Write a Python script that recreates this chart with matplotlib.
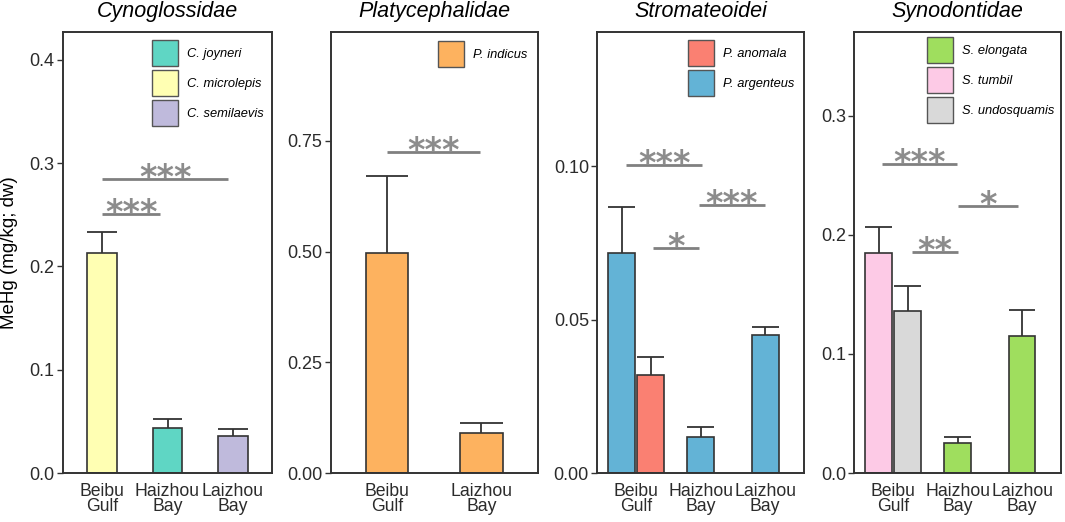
import matplotlib
matplotlib.use("Agg")
import matplotlib.pyplot as plt
from matplotlib.patches import Patch
import numpy as np

plt.rcParams['font.family'] = ['Liberation Sans', 'DejaVu Sans']

# ---------------- data ----------------
# Panel 1: Cynoglossidae
cyno_sites = ["Beibu\nGulf", "Haizhou\nBay", "Laizhou\nBay"]
cyno_species = ["C. joyneri", "C. microlepis", "C. semilaevis"]
cyno_bar_species = ["C. microlepis", "C. joyneri", "C. semilaevis"]
cyno_bar_site = ["Beibu\nGulf", "Haizhou\nBay", "Laizhou\nBay"]
cyno_mean = [0.213, 0.044, 0.036]
cyno_se = [0.0207, 0.0084, 0.0062]
cyno_sig = [(1.0, 1.89, 0.2505, "***"), (1.0, 2.93, 0.2847, "***")]

# Panel 2: Platycephalidae
platy_sites = ["Beibu\nGulf", "Laizhou\nBay"]
platy_species = ["P. indicus"]
platy_bar_species = ["P. indicus", "P. indicus"]
platy_bar_site = ["Beibu\nGulf", "Laizhou\nBay"]
platy_mean = [0.496, 0.0896]
platy_se = [0.175, 0.024]
platy_sig = [(1.0, 1.98, 0.7256, "***")]

# Panel 3: Stromateoidei
strom_sites = ["Beibu\nGulf", "Haizhou\nBay", "Laizhou\nBay"]
strom_species = ["P. anomala", "P. argenteus"]
strom_bar_species = ["P. argenteus", "P. anomala", "P. argenteus", "P. argenteus"]
strom_bar_site = ["Beibu\nGulf", "Beibu\nGulf", "Haizhou\nBay", "Laizhou\nBay"]
strom_mean = [0.0716, 0.0319, 0.0119, 0.0449]
strom_se = [0.0152, 0.0060, 0.0030, 0.0028]
strom_sig = [(0.85, 2.02, 0.1005, "***"), (1.26, 1.98, 0.0735, "*"),
             (1.98, 2.99, 0.0874, "***")]

# Panel 4: Synodontidae
syno_sites = ["Beibu\nGulf", "Haizhou\nBay", "Laizhou\nBay"]
syno_species = ["S. elongata", "S. tumbil", "S. undosquamis"]
syno_bar_species = ["S. tumbil", "S. undosquamis", "S. elongata", "S. elongata"]
syno_bar_site = ["Beibu\nGulf", "Beibu\nGulf", "Haizhou\nBay", "Laizhou\nBay"]
syno_mean = [0.1849, 0.1359, 0.0255, 0.1149]
syno_se = [0.0218, 0.0210, 0.0048, 0.0218]
syno_sig = [(0.83, 1.99, 0.2591, "***"), (1.30, 2.00, 0.1857, "**"),
            (2.01, 2.94, 0.2241, "*")]

species_colors = {
    "C. joyneri": "#5fd6c4", "C. microlepis": "#ffffb3", "C. semilaevis": "#bfbadc",
    "P. indicus": "#fdb25f",
    "P. anomala": "#fa8072", "P. argenteus": "#63b3d6",
    "S. elongata": "#9fde5e", "S. tumbil": "#fdcae6", "S. undosquamis": "#d9d9d9",
}

panels = [
    dict(title="Cynoglossidae", sites=cyno_sites, species=cyno_species,
         bsp=cyno_bar_species, bsite=cyno_bar_site, mean=cyno_mean, se=cyno_se,
         sig=cyno_sig, ylim=0.427, ticks=[0.0, 0.1, 0.2, 0.3, 0.4], fmt="{:.1f}",
         width=0.45, leg=(0.426, 0.982)),
    dict(title="Platycephalidae", sites=platy_sites, species=platy_species,
         bsp=platy_bar_species, bsite=platy_bar_site, mean=platy_mean, se=platy_se,
         sig=platy_sig, ylim=0.996, ticks=[0.0, 0.25, 0.5, 0.75], fmt="{:.2f}",
         width=0.45, leg=(0.518, 0.980)),
    dict(title="Stromateoidei", sites=strom_sites, species=strom_species,
         bsp=strom_bar_species, bsite=strom_bar_site, mean=strom_mean, se=strom_se,
         sig=strom_sig, ylim=0.1438, ticks=[0.0, 0.05, 0.10], fmt="{:.2f}",
         width=0.42, leg=(0.439, 0.982)),
    dict(title="Synodontidae", sites=syno_sites, species=syno_species,
         bsp=syno_bar_species, bsite=syno_bar_site, mean=syno_mean, se=syno_se,
         sig=syno_sig, ylim=0.3703, ticks=[0.0, 0.1, 0.2, 0.3], fmt="{:.1f}",
         width=0.41, leg=(0.352, 0.989)),
]

# ---------------- layout ----------------
W, H = 1065, 522
fig = plt.figure(figsize=(W / 100, H / 100), dpi=100)
ax_lefts = [63, 330.7, 597.3, 854.3]
ax_rights = [272, 538, 804, 1061]
top_px, bot_px = 32, 473

edge = "#333333"
dark = "#2b2b2b"
sig_gray = "#808080"

for p, L, R in zip(panels, ax_lefts, ax_rights):
    ax = fig.add_axes([L / W, (H - bot_px) / H, (R - L) / W, (bot_px - top_px) / H])
    n = len(p["sites"])
    xpos = {s: i + 1 for i, s in enumerate(p["sites"])}
    # dodge bars sharing a site
    counts = {s: p["bsite"].count(s) for s in p["sites"]}
    seen = {s: 0 for s in p["sites"]}
    w = p["width"]
    for sp, site, m, e in zip(p["bsp"], p["bsite"], p["mean"], p["se"]):
        k = counts[site]
        j = seen[site]
        seen[site] += 1
        x = xpos[site] + (j - (k - 1) / 2) * 0.45
        ax.bar(x, m, width=w, color=species_colors[sp], edgecolor=edge,
               linewidth=1.2, zorder=2)
        ax.vlines(x, m, m + e, color=edge, linewidth=1.3, zorder=1)
        ax.hlines(m + e, x - w / 2, x + w / 2, color=edge, linewidth=1.3, zorder=1)

    for x1, x2, y, lab in p["sig"]:
        ax.hlines(y, x1, x2, color=sig_gray, linewidth=2.0, zorder=3)
        ax.annotate(lab, xy=((x1 + x2) / 2, y), xytext=(0, -6.5),
                    textcoords="offset points", ha="center", va="baseline",
                    fontsize=24, fontweight="bold", color="#8c8c8c",
                    family="DejaVu Sans", zorder=3)

    ax.set_xlim(0.4, n + 0.6)
    ax.set_ylim(0, p["ylim"])
    ax.set_xticks(range(1, n + 1))
    ax.set_xticklabels(p["sites"], fontsize=12.7, color=dark, linespacing=0.9)
    ax.set_yticks(p["ticks"])
    ax.set_yticklabels([p["fmt"].format(t) for t in p["ticks"]], fontsize=13, color=dark)
    ax.tick_params(axis="both", direction="out", length=4, width=1.0, color=edge, pad=2)
    ax.tick_params(axis="x", length=0, pad=7)
    for s in ax.spines.values():
        s.set_color(edge)
        s.set_linewidth(1.4)
    ax.set_title(p["title"], fontsize=15.5, style="italic", pad=11)

    handles = [Patch(facecolor=species_colors[s], edgecolor="#555555", linewidth=1.0)
               for s in p["species"]]
    ax.legend(handles, p["species"], loc="upper left", bbox_to_anchor=p["leg"],
              frameon=False, borderpad=0, borderaxespad=0,
              prop=dict(size=9.3, style="italic"),
              handlelength=2.01, handleheight=2.72, labelspacing=0.31,
              handletextpad=0.7)

fig.text(10 / W, (H - 253) / H, "MeHg (mg/kg; dw)", rotation=90, ha="center",
         va="center", fontsize=13.5, color="black")

fig.savefig("out.png", dpi=100)
